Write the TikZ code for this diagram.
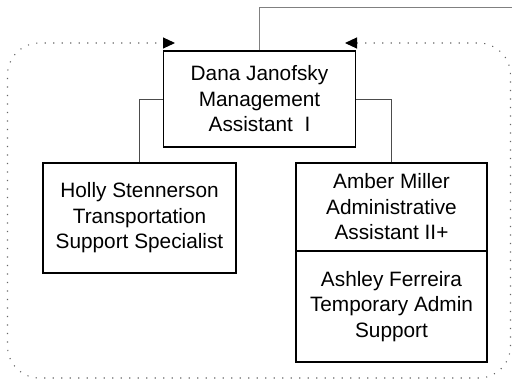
\documentclass[tikz,border=0pt]{standalone}
\usepackage{fontspec}
\setmainfont{Liberation Sans}
\usetikzlibrary{arrows.meta}
\usetikzlibrary{positioning}

\tikzset{
  person/.style={draw, line width=1.5pt, align=center, inner sep=0pt,
    minimum width=192pt, font=\fontsize{20.8}{25.5}\selectfont},
  link/.style={draw=gray!60!black, line width=0.9pt},
  teamloop/.style={draw=gray!80!black, line width=1.1pt,
    dash pattern=on 1.1pt off 7.4pt, rounded corners=32pt}
}

\begin{document}
\begin{tikzpicture}[x=1pt, y=-1pt]
  \useasboundingbox (0,0) rectangle (512,381);
  \node[person, minimum height=96pt] (dana) at (259.5,99)
    {Dana Janofsky\\Management\\Assistant\ \ I};
  \node[person, minimum width=193pt, minimum height=110pt] (holly) at (139.5,218)
    {Holly Stennerson\\Transportation\\Support Specialist};
  \node[person, minimum width=191pt, minimum height=88pt] (amber) at (391.5,207)
    {Amber Miller\\Administrative\\Assistant II+};
  \node[person, minimum width=191pt, minimum height=111pt, below=-1.5pt of amber] (ashley)
    {Ashley Ferreira\\Temporary Admin\\Support};

  \draw[link] (dana.west) -| (holly.north);
  \draw[link] (dana.east) -| (amber.north);

  % line up to the next level
  \coordinate (boss) at (512,7);
  \draw[link, draw=gray] (dana.north) |- (boss);

  % dotted team loop
  \coordinate (tipl) at (175,43);
  \coordinate (tipr) at (345,43);
  \draw[teamloop, {Triangle[length=12pt, width=11pt, color=black]}-{Triangle[length=12pt, width=11pt, color=black]}]
    (tipr) -- (510.5,43) -- (510.5,378) -- (7.5,378) -- (7.5,43) -- (tipl);
\end{tikzpicture}
\end{document}
